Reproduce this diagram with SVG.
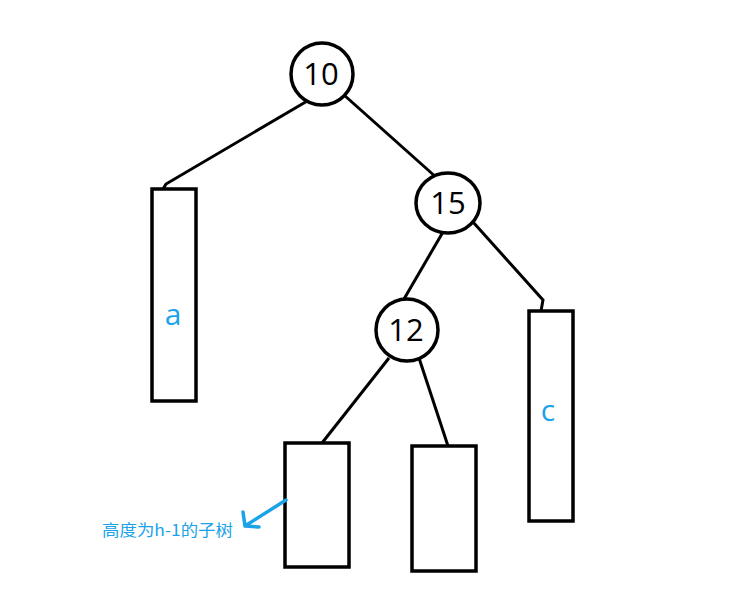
<svg xmlns="http://www.w3.org/2000/svg" width="741" height="603" viewBox="0 0 741 603">
<style>
.n{fill:#fff;stroke:#000;stroke-width:3.5}
.e{fill:none;stroke:#000;stroke-width:3}
.t{font-family:"Open Sans","Noto Sans",sans-serif;font-size:31px;fill:#000;text-anchor:middle}
.b{font-family:"Open Sans","Noto Sans",sans-serif;font-size:30px;fill:#1aa3e8;text-anchor:middle}
.a{font-family:"Noto Sans CJK SC","Noto Sans",sans-serif;font-size:16px;fill:#1aa3e8}
</style>
<rect width="741" height="603" fill="#fff"/>
<g id="edges">
<path class="e" d="M309 100 L166 184 L163 189"/>
<path class="e" d="M344 95 L437 178"/>
<path class="e" d="M443 232 L404 299"/>
<path class="e" d="M473 222 L543 300 L541 311"/>
<path class="e" d="M389 358 L322 443"/>
<path class="e" d="M419 358 L448 446"/>
</g>
<g id="node-10"><circle class="n" cx="322" cy="74" r="31"/><text class="t" x="321" y="85">10</text></g>
<g id="node-15"><ellipse class="n" cx="448" cy="203" rx="32" ry="30"/><text class="t" x="448" y="214">15</text></g>
<g id="node-12"><circle class="n" cx="407" cy="330" r="31"/><text class="t" x="406" y="341">12</text></g>
<g id="subtree-a"><rect class="n" x="152" y="189" width="44" height="212"/><text class="b" x="173" y="325">a</text></g>
<g id="subtree-c"><rect class="n" x="529" y="311" width="44" height="210"/><text class="b" x="548" y="421">c</text></g>
<g id="subtree-left"><rect class="n" x="285" y="443" width="64" height="124"/></g>
<g id="subtree-right"><rect class="n" x="412" y="446" width="64" height="125"/></g>
<g id="annotation">
<path d="M286 500 L245 526 M243 512 L245 526 L259 527" fill="none" stroke="#1aa3e8" stroke-width="3.5" stroke-linecap="round" stroke-linejoin="round"/>
<text class="a" x="102" y="536" textLength="131" lengthAdjust="spacingAndGlyphs">高度为h-1的子树</text>
</g>
</svg>
